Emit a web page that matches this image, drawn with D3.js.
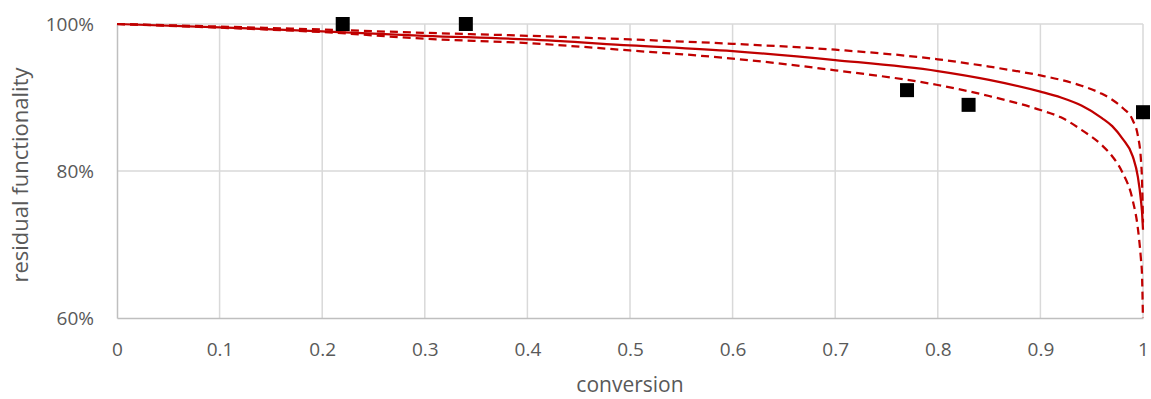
<!DOCTYPE html>
<html>
<head>
<meta charset="utf-8">
<script src="https://cdn.jsdelivr.net/npm/d3@7"></script>
<style>
  body { margin: 0; background: #fff; }
  text { font-family: "Open Sans", "Noto Sans", sans-serif; fill: #595959; }
</style>
</head>
<body>
<svg id="chart"></svg>
<script>
// conversion values shared by the three model curves
const conversion = [0, 0.1, 0.2, 0.3, 0.4, 0.5, 0.6, 0.7, 0.8, 0.85, 0.9, 0.92, 0.94, 0.96, 0.97, 0.98, 0.99, 0.995, 0.998, 0.999, 1];
const modelMid = [100, 99.55, 99.0, 98.4, 97.9, 97.1, 96.3, 95.1, 93.6, 92.4, 90.8, 90.0, 88.9, 87.2, 86.1, 84.4, 82.0, 79.2, 76.0, 74.5, 72];
const modelUpper = [100, 99.65, 99.25, 98.8, 98.4, 97.9, 97.3, 96.5, 95.2, 94.2, 93.0, 92.4, 91.6, 90.5, 89.7, 88.6, 86.9, 84.8, 81.5, 79, 73];
const modelLower = [100, 99.5, 98.9, 98.0, 97.4, 96.4, 95.3, 93.7, 91.7, 90.2, 88.3, 87.3, 85.6, 83.5, 82.0, 79.8, 76.0, 72.2, 68.0, 66.0, 59.5];

// measured points
const measuredX = [0.22, 0.34, 0.77, 0.83, 1.0];
const measuredY = [100, 100, 91, 89, 88];

const xTicks = [0, 0.1, 0.2, 0.3, 0.4, 0.5, 0.6, 0.7, 0.8, 0.9, 1];
const yTicks = [60, 80, 100];

const svgWidth = 1151;
const svgHeight = 399;
const margin = { top: 24, right: 8, bottom: 81, left: 117 };
const width = svgWidth - margin.left - margin.right;
const height = svgHeight - margin.top - margin.bottom;
const red = "#c00000";

const svg = d3.select("#chart").attr("width", svgWidth).attr("height", svgHeight);

const x = d3.scaleLinear().domain([0, 1]).range([margin.left, margin.left + width]);
const y = d3.scaleLinear().domain([60, 100]).range([margin.top + height, margin.top]);

svg.append("defs").append("clipPath").attr("id", "plot-clip")
  .append("rect")
  .attr("x", margin.left - 2).attr("y", margin.top - 4)
  .attr("width", width + 4).attr("height", height + 4);

// gridlines
svg.append("g")
  .selectAll("line")
  .data(xTicks.slice(1))
  .enter()
  .append("line")
  .attr("x1", (d) => x(d)).attr("x2", (d) => x(d))
  .attr("y1", margin.top).attr("y2", margin.top + height)
  .attr("stroke", "#d9d9d9").attr("stroke-width", 1.5);

svg.append("g")
  .selectAll("line")
  .data(yTicks.slice(1))
  .enter()
  .append("line")
  .attr("x1", margin.left).attr("x2", margin.left + width)
  .attr("y1", (d) => y(d)).attr("y2", (d) => y(d))
  .attr("stroke", "#d9d9d9").attr("stroke-width", 1.5);

// axes (Excel-like: line only, labels)
const xAxis = svg.append("g")
  .attr("transform", `translate(0, ${margin.top + height})`)
  .call(d3.axisBottom(x).tickValues(xTicks).tickSize(0).tickPadding(25).tickFormat((d) => d3.format("")(d)));
xAxis.select(".domain").attr("stroke", "#bfbfbf").attr("stroke-width", 1.5);
xAxis.selectAll("text").style("font-size", "19px").attr("fill", "#595959");

const yAxis = svg.append("g")
  .attr("transform", `translate(${margin.left}, 0)`)
  .call(d3.axisLeft(y).tickValues(yTicks).tickSize(0).tickPadding(23).tickFormat((d) => d + "%"));
yAxis.select(".domain").attr("stroke", "#bfbfbf").attr("stroke-width", 1.5);
yAxis.selectAll("text").style("font-size", "19px").attr("fill", "#595959");

// axis titles
svg.append("text")
  .attr("x", margin.left + width / 2)
  .attr("y", 392)
  .attr("text-anchor", "middle")
  .style("font-size", "21px")
  .text("conversion");

svg.append("text")
  .attr("transform", `translate(28, ${margin.top + height / 2 + 4}) rotate(-90)`)
  .attr("text-anchor", "middle")
  .style("font-size", "22px")
  .text("residual functionality");

// model curves
const line = d3.line()
  .x((d) => x(d[0]))
  .y((d) => y(d[1]))
  .curve(d3.curveMonotoneX);

const curves = [
  { values: modelUpper, dash: "8,5", width: 2.25 },
  { values: modelLower, dash: "8,5", width: 2.25 },
  { values: modelMid, dash: null, width: 2.25 },
];

const plot = svg.append("g").attr("clip-path", "url(#plot-clip)");
curves.forEach((c) => {
  plot.append("path")
    .datum(conversion.map((cv, i) => [cv, c.values[i]]))
    .attr("d", line)
    .attr("fill", "none")
    .attr("stroke", red)
    .attr("stroke-width", c.width)
    .attr("stroke-dasharray", c.dash);
});

// measured squares
const sq = 14;
svg.append("g")
  .selectAll("rect")
  .data(measuredX.map((mx, i) => [mx, measuredY[i]]))
  .enter()
  .append("rect")
  .attr("x", (d) => x(d[0]) - sq / 2)
  .attr("y", (d) => y(d[1]) - sq / 2)
  .attr("width", sq)
  .attr("height", sq)
  .attr("fill", "#000");
</script>
</body>
</html>
